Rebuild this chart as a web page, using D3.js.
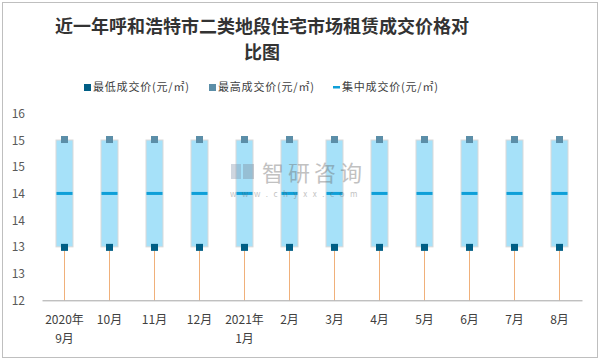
<!DOCTYPE html>
<html>
<head>
<meta charset="utf-8">
<script src="https://cdn.jsdelivr.net/npm/d3@7"></script>
<style>
  html, body { margin: 0; padding: 0; background: #fff; }
  text { font-family: "Noto Sans CJK SC", "Noto Sans", sans-serif; }
</style>
</head>
<body>
<div id="chart"></div>
<script>
// data
var months = ["2020年|9月", "10月", "11月", "12月", "2021年|1月", "2月", "3月", "4月", "5月", "6月", "7月", "8月"];
var minPrice = [13, 13, 13, 13, 13, 13, 13, 13, 13, 13, 13, 13];
var maxPrice = [15, 15, 15, 15, 15, 15, 15, 15, 15, 15, 15, 15];
var midPrice = [14, 14, 14, 14, 14, 14, 14, 14, 14, 14, 14, 14];
var yTicks = [12, 12.5, 13, 13.5, 14, 14.5, 15, 15.5];
var legendNames = ["最低成交价(元/㎡)", "最高成交价(元/㎡)", "集中成交价(元/㎡)"];

var W = 601, H = 362;

var svg = d3.select("#chart")
    .append("svg")
    .attr("width", W)
    .attr("height", H);

// outer frame
svg.append("rect")
    .attr("x", 2.5).attr("y", 2.5)
    .attr("width", 595).attr("height", 355)
    .attr("fill", "#fff")
    .attr("stroke", "#bfbfbf");

// title
var title = svg.append("text")
    .attr("x", 262)
    .attr("text-anchor", "middle")
    .attr("fill", "#333")
    .style("font-size", "18px")
    .style("font-weight", "bold");
title.append("tspan").attr("x", 262).attr("y", 33).text("近一年呼和浩特市二类地段住宅市场租赁成交价格对");
title.append("tspan").attr("x", 262).attr("y", 59).text("比图");

// scales
var x = d3.scaleBand()
    .domain(months)
    .range([42, 582]);

var y = d3.scaleLinear()
    .domain([12, 15.5])
    .range([300.3, 113.3]);

var boxW = 17;
var idx = d3.range(months.length);

// orange stems from axis to the minimum
svg.append("g")
    .selectAll("line")
    .data(idx)
    .enter().append("line")
    .attr("x1", function(i) { return x(months[i]) + x.bandwidth() / 2; })
    .attr("x2", function(i) { return x(months[i]) + x.bandwidth() / 2; })
    .attr("y1", y(12))
    .attr("y2", function(i) { return y(minPrice[i]); })
    .attr("stroke", "#f0b07a")
    .attr("stroke-width", 1);

// boxes
svg.append("g")
    .selectAll("rect")
    .data(idx)
    .enter().append("rect")
    .attr("x", function(i) { return x(months[i]) + x.bandwidth() / 2 - boxW / 2; })
    .attr("y", function(i) { return y(maxPrice[i]); })
    .attr("width", boxW)
    .attr("height", function(i) { return y(minPrice[i]) - y(maxPrice[i]); })
    .attr("fill", "#a6e1f9")
    .attr("stroke", "#d9d9d9")
    .attr("stroke-width", 1);

// median line
svg.append("g")
    .selectAll("rect")
    .data(idx)
    .enter().append("rect")
    .attr("x", function(i) { return x(months[i]) + x.bandwidth() / 2 - boxW / 2 + 0.5; })
    .attr("y", function(i) { return y(midPrice[i]) - 1.5; })
    .attr("width", boxW - 1)
    .attr("height", 3)
    .attr("fill", "#0e9fd8");

// max markers
svg.append("g")
    .selectAll("rect")
    .data(idx)
    .enter().append("rect")
    .attr("x", function(i) { return x(months[i]) + x.bandwidth() / 2 - 3.5; })
    .attr("y", function(i) { return y(maxPrice[i]) - 4; })
    .attr("width", 7).attr("height", 7)
    .attr("fill", "#5b8ea8");

// min markers
svg.append("g")
    .selectAll("rect")
    .data(idx)
    .enter().append("rect")
    .attr("x", function(i) { return x(months[i]) + x.bandwidth() / 2 - 3.5; })
    .attr("y", function(i) { return y(minPrice[i]) - 3; })
    .attr("width", 7).attr("height", 7)
    .attr("fill", "#005e85");

// watermark, drawn over the marks
var wm = svg.append("g").attr("opacity", 0.4);
wm.append("rect").attr("x", 231).attr("y", 164).attr("width", 10).attr("height", 15).attr("fill", "#8a9bb0");
wm.append("rect").attr("x", 243).attr("y", 164).attr("width", 11).attr("height", 15).attr("fill", "#7f8d9e");
wm.append("text")
    .attr("x", 262).attr("y", 181)
    .attr("fill", "#666")
    .style("font-size", "22px")
    .style("letter-spacing", "4px")
    .text("智研咨询");
wm.append("text")
    .attr("x", 230).attr("y", 197)
    .attr("fill", "#666")
    .style("font-size", "8px")
    .style("letter-spacing", "5.6px")
    .text("www.chyxx.com");

// y axis labels
svg.append("g")
    .selectAll("text")
    .data(yTicks)
    .enter().append("text")
    .attr("x", 25)
    .attr("y", function(d) { return y(d) + 4.5; })
    .attr("text-anchor", "end")
    .attr("fill", "#595959")
    .style("font-size", "12px")
    .text(function(d) { return Math.round(d); });

// x axis
var xAxis = svg.append("g")
    .attr("transform", "translate(0," + y(12) + ")")
    .call(d3.axisBottom(x).tickSize(0).tickSizeOuter(0).tickPadding(0));
xAxis.select(".domain").attr("stroke", "#a6a6a6");
xAxis.selectAll(".tick text").remove();
xAxis.selectAll(".tick").each(function(d) {
    var parts = d.split("|");
    var t = d3.select(this).append("text")
        .attr("fill", "#404040")
        .attr("text-anchor", "middle")
        .style("font-size", "12px")
        .style("font-family", "'Noto Sans CJK SC', sans-serif");
    parts.forEach(function(p, k) {
        t.append("tspan").attr("x", 0).attr("y", 24 + k * 19).text(p);
    });
});

// legend
var legendX = [84, 209, 333];
var legendCol = ["#005e85", "#5b8ea8", "#0e9fd8"];
var lg = svg.append("g")
    .selectAll("g")
    .data(legendNames)
    .enter().append("g")
    .attr("transform", function(d, i) { return "translate(" + legendX[i] + ",87)"; });
lg.append("rect")
    .attr("x", 0)
    .attr("y", function(d, i) { return i == 2 ? -1 : -3; })
    .attr("width", 7)
    .attr("height", function(d, i) { return i == 2 ? 2.5 : 7; })
    .attr("fill", function(d, i) { return legendCol[i]; });
lg.append("text")
    .attr("x", 9)
    .attr("y", 4)
    .attr("fill", "#404040")
    .style("font-size", "11px")
    .style("letter-spacing", "0.8px")
    .text(function(d) { return d; });
</script>
</body>
</html>
